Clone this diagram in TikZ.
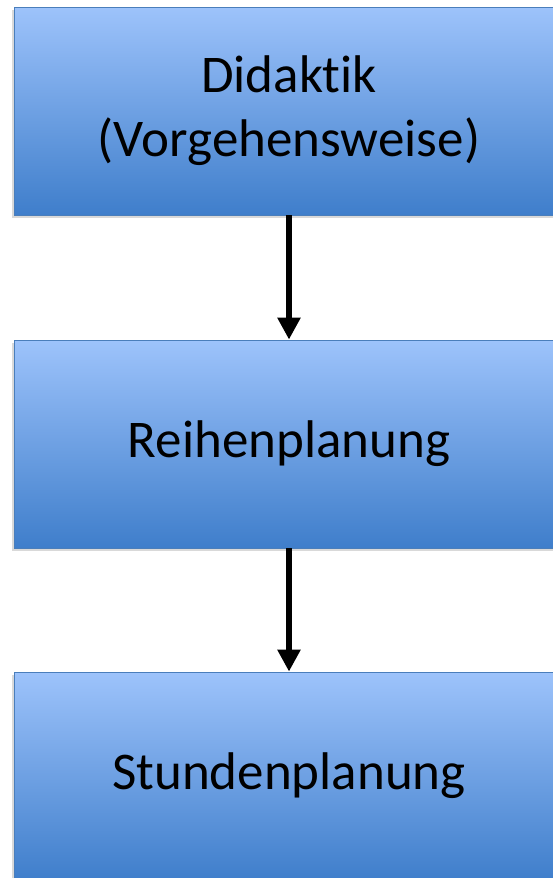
\documentclass[tikz,border=0pt]{standalone}
\usepackage{fontspec}
\setmainfont[Ligatures={NoCommon}]{Carlito}
\usepackage{tikz}
\usetikzlibrary{
  arrows.meta,
  positioning,
  shadows
}
\definecolor{boxtop}{HTML}{9DC3FB}
\definecolor{boxbot}{HTML}{3F7ECB}
\definecolor{boxline}{HTML}{4A7EBB}

\begin{document}
\begin{tikzpicture}[
    x=1pt, y=1pt,
    font=\fontsize{53}{64}\selectfont,
    stage/.style={
      rectangle, draw=boxline, line width=0.8pt,
      top color=boxtop, bottom color=boxbot,
      minimum width=550pt, minimum height=208pt,
      text centered, align=center, inner sep=0pt,
      drop shadow={shadow xshift=-2pt, shadow yshift=-3pt, opacity=0.3}
    },
    flow/.style={-{Triangle[width=22pt,length=22pt]}, line width=6pt},
  ]
    \useasboundingbox (0,0) rectangle (552,-878);
    \node[stage] (s1) at (289,-111) {Didaktik\\(Vorgehensweise)};
    \node[stage] (s2) at (289,-444) {Reihenplanung};
    \node[stage] (s3) at (289,-776) {Stundenplanung};

    \foreach \a/\b in {s1/s2,s2/s3}{
      \draw[flow] (\a.south) -- (\b.north);
    }
  \end{tikzpicture}
\end{document}
